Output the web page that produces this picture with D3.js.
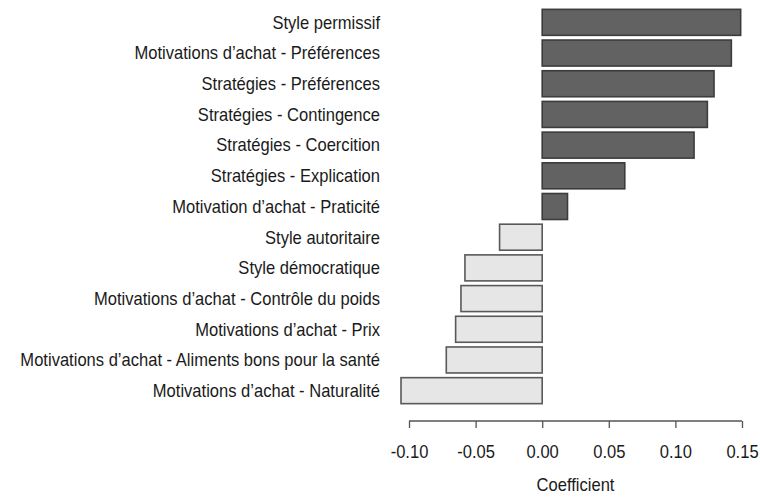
<!DOCTYPE html>
<html>
<head>
<meta charset="utf-8">
<script src="https://cdn.jsdelivr.net/npm/d3@7"></script>
<style>
  body { margin: 0; background: #fff; }
  text { font-family: "Liberation Sans", Arial, sans-serif; fill: #1a1a1a; }
</style>
</head>
<body>
<div class="chart"></div>
<script>
const categories = [
  "Style permissif",
  "Motivations d\u2019achat - Préférences",
  "Stratégies - Préférences",
  "Stratégies - Contingence",
  "Stratégies - Coercition",
  "Stratégies - Explication",
  "Motivation d\u2019achat - Praticité",
  "Style autoritaire",
  "Style démocratique",
  "Motivations d\u2019achat - Contrôle du poids",
  "Motivations d\u2019achat - Prix",
  "Motivations d\u2019achat - Aliments bons pour la santé",
  "Motivations d\u2019achat - Naturalité"
];
const coefficients = [0.149, 0.142, 0.129, 0.124, 0.114, 0.062, 0.019,
  -0.032, -0.058, -0.061, -0.065, -0.072, -0.106];
const tickValues = [-0.10, -0.05, 0.00, 0.05, 0.10, 0.15];

const width = 760;
const height = 497;
const fontSize = 18;
const squeeze = 0.92; // the original type is narrower than Liberation Sans

const svg = d3.select("div.chart").append("svg")
  .attr("width", width)
  .attr("height", height);

const xScale = d3.scaleLinear()
  .domain([-0.10, 0.15])
  .range([409, 742]);

const yScale = d3.scaleBand()
  .domain(categories)
  .range([7, 406])
  .paddingInner(0.153)
  .paddingOuter(0.0765);

const bars = svg.append("g").attr("class", "bars");
bars.selectAll("rect")
  .data(categories)
  .enter()
  .append("rect")
  .attr("x", (d, i) => xScale(Math.min(0, coefficients[i])))
  .attr("y", (d) => yScale(d))
  .attr("width", (d, i) => Math.abs(xScale(coefficients[i]) - xScale(0)))
  .attr("height", yScale.bandwidth())
  .attr("fill", (d, i) => coefficients[i] > 0 ? "#626262" : "#e6e6e6")
  .attr("stroke", (d, i) => coefficients[i] > 0 ? "#3c3c3c" : "#595959")
  .attr("stroke-width", 1.6);

const labels = svg.append("g").attr("class", "labels");
labels.selectAll("text")
  .data(categories)
  .enter()
  .append("text")
  .attr("transform", (d) => `translate(380, ${yScale(d) + yScale.bandwidth() / 2}) scale(${squeeze}, 1)`)
  .attr("dy", "0.35em")
  .attr("text-anchor", "end")
  .attr("font-size", fontSize)
  .text((d) => d);

const fmt = d3.format(".2f");
const xAxis = d3.axisBottom(xScale)
  .tickValues(tickValues)
  .tickSize(7)
  .tickPadding(17)
  .tickFormat((d) => fmt(d).replace("\u2212", "-"));

const xAxisGroup = svg.append("g").attr("class", "xaxis")
  .attr("transform", "translate(0, 421)")
  .call(xAxis);
xAxisGroup.select(".domain")
  .attr("stroke", "#555")
  .attr("stroke-width", 1.3)
  .attr("d", `M${xScale(-0.10)},0H${xScale(0.15)}`);
xAxisGroup.selectAll(".tick line")
  .attr("stroke", "#555")
  .attr("stroke-width", 1.3);
xAxisGroup.selectAll(".tick text")
  .attr("font-size", fontSize)
  .attr("font-family", "Liberation Sans, Arial, sans-serif")
  .attr("fill", "#1a1a1a")
  .attr("transform", `scale(${squeeze}, 1)`);

svg.append("text")
  .attr("transform", `translate(${xScale(0.025)}, 491) scale(${squeeze}, 1)`)
  .attr("text-anchor", "middle")
  .attr("font-size", fontSize)
  .text("Coefficient");
</script>
</body>
</html>
